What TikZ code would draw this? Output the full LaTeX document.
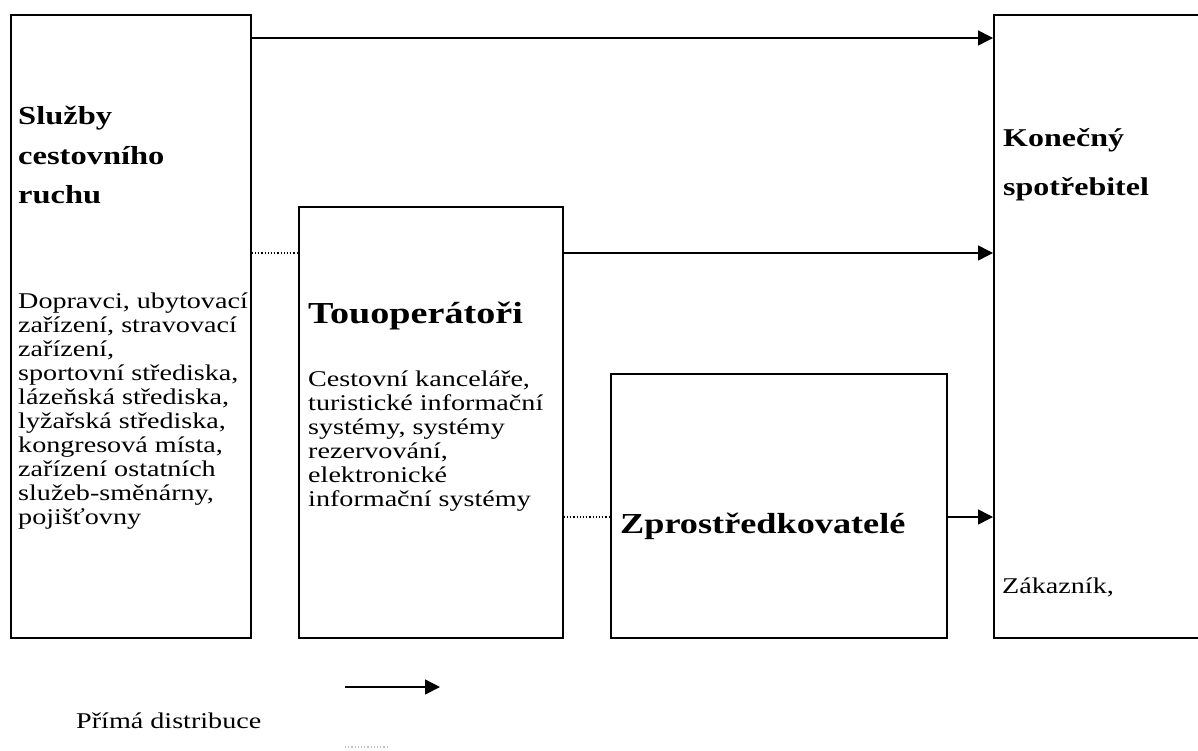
\documentclass[tikz,border=0pt]{standalone}
\usepackage{fontspec}
\usepackage{graphicx}
\setmainfont{Liberation Serif}
\usetikzlibrary{arrows.meta,calc}
\newcommand{\stk}[1]{\scalebox{1.25}[1]{\vtop{\lineskiplimit=-100pt\lineskip=0pt\halign{##\hfil\cr#1\crcr}}}}
\tikzset{
  box/.style={draw=black, line width=1.8pt, inner sep=0pt, anchor=north west},
  arr/.style={line width=1.5pt, -{Triangle[length=15pt,width=15pt]}},
  dots/.style={line width=1.2pt, dotted},
  txt/.style={inner sep=0pt, anchor=base west},
  body/.style={txt, font=\fontsize{22.5}{24}\selectfont},
  head/.style={txt, font=\fontsize{26}{39.5}\selectfont\bfseries},
}
\begin{document}
\begin{tikzpicture}[x=1pt,y=-1pt]
\useasboundingbox (0,0) rectangle (1198,751);
% boxes
\node[box, minimum width=240pt, minimum height=623pt] (sluzby) at (10,14) {};
\node[box, minimum width=264pt, minimum height=431pt] (tour) at (298,206) {};
\node[box, minimum width=336pt, minimum height=264pt] (zpro) at (610,373) {};
\node[box, minimum width=240pt, minimum height=623pt] (spotr) at (993,14) {};
% texts
\node[head] (tA) at (18,125) {\stk{Služby\cr cestovního\cr ruchu}};
\node[body] (tB) at (18,308) {\stk{Dopravci, ubytovací\cr zařízení, stravovací\cr zařízení,\cr sportovní střediska,\cr lázeňská střediska,\cr lyžařská střediska,\cr kongresová místa,\cr zařízení ostatních\cr služeb-směnárny,\cr pojišťovny}};
\node[head, font=\fontsize{30.5}{40}\selectfont\bfseries] (tC) at (308,323) {\stk{Touoperátoři}};
\node[body] (tD) at (308,386) {\stk{Cestovní kanceláře,\cr turistické informační\cr systémy, systémy\cr rezervování,\cr elektronické\cr informační systémy}};
\node[head, font=\fontsize{29}{40}\selectfont\bfseries] (tE) at (620,533) {\stk{Zprostředkovatelé}};
\node[head, font=\fontsize{25.6}{49}\selectfont\bfseries] (tF) at (1003,147) {\stk{Konečný\cr spotřebitel}};
\node[body] (tG) at (1002,593) {\stk{Zákazník,}};
\node[body] (tH) at (76,728) {\stk{Přímá distribuce}};
% connectors
\draw[arr] (sluzby.east |- 0,38) -- (spotr.west |- 0,38);
\draw[arr] (tour.east |- 0,253) -- (spotr.west |- 0,253);
\draw[arr] (zpro.east |- 0,517) -- (spotr.west |- 0,517);
\draw[dots] (sluzby.east |- 0,253) -- (tour.west |- 0,253);
\draw[dots] (tour.east |- 0,517) -- (zpro.west |- 0,517);
% legend
\coordinate (la) at (345,687);
\coordinate (lb) at (440,687);
\draw[arr] (la) -- (lb);
\coordinate (lc) at (345,747);
\coordinate (ld) at (388,747);
\draw[dots, black!25] (lc) -- (ld);
\end{tikzpicture}
\end{document}
